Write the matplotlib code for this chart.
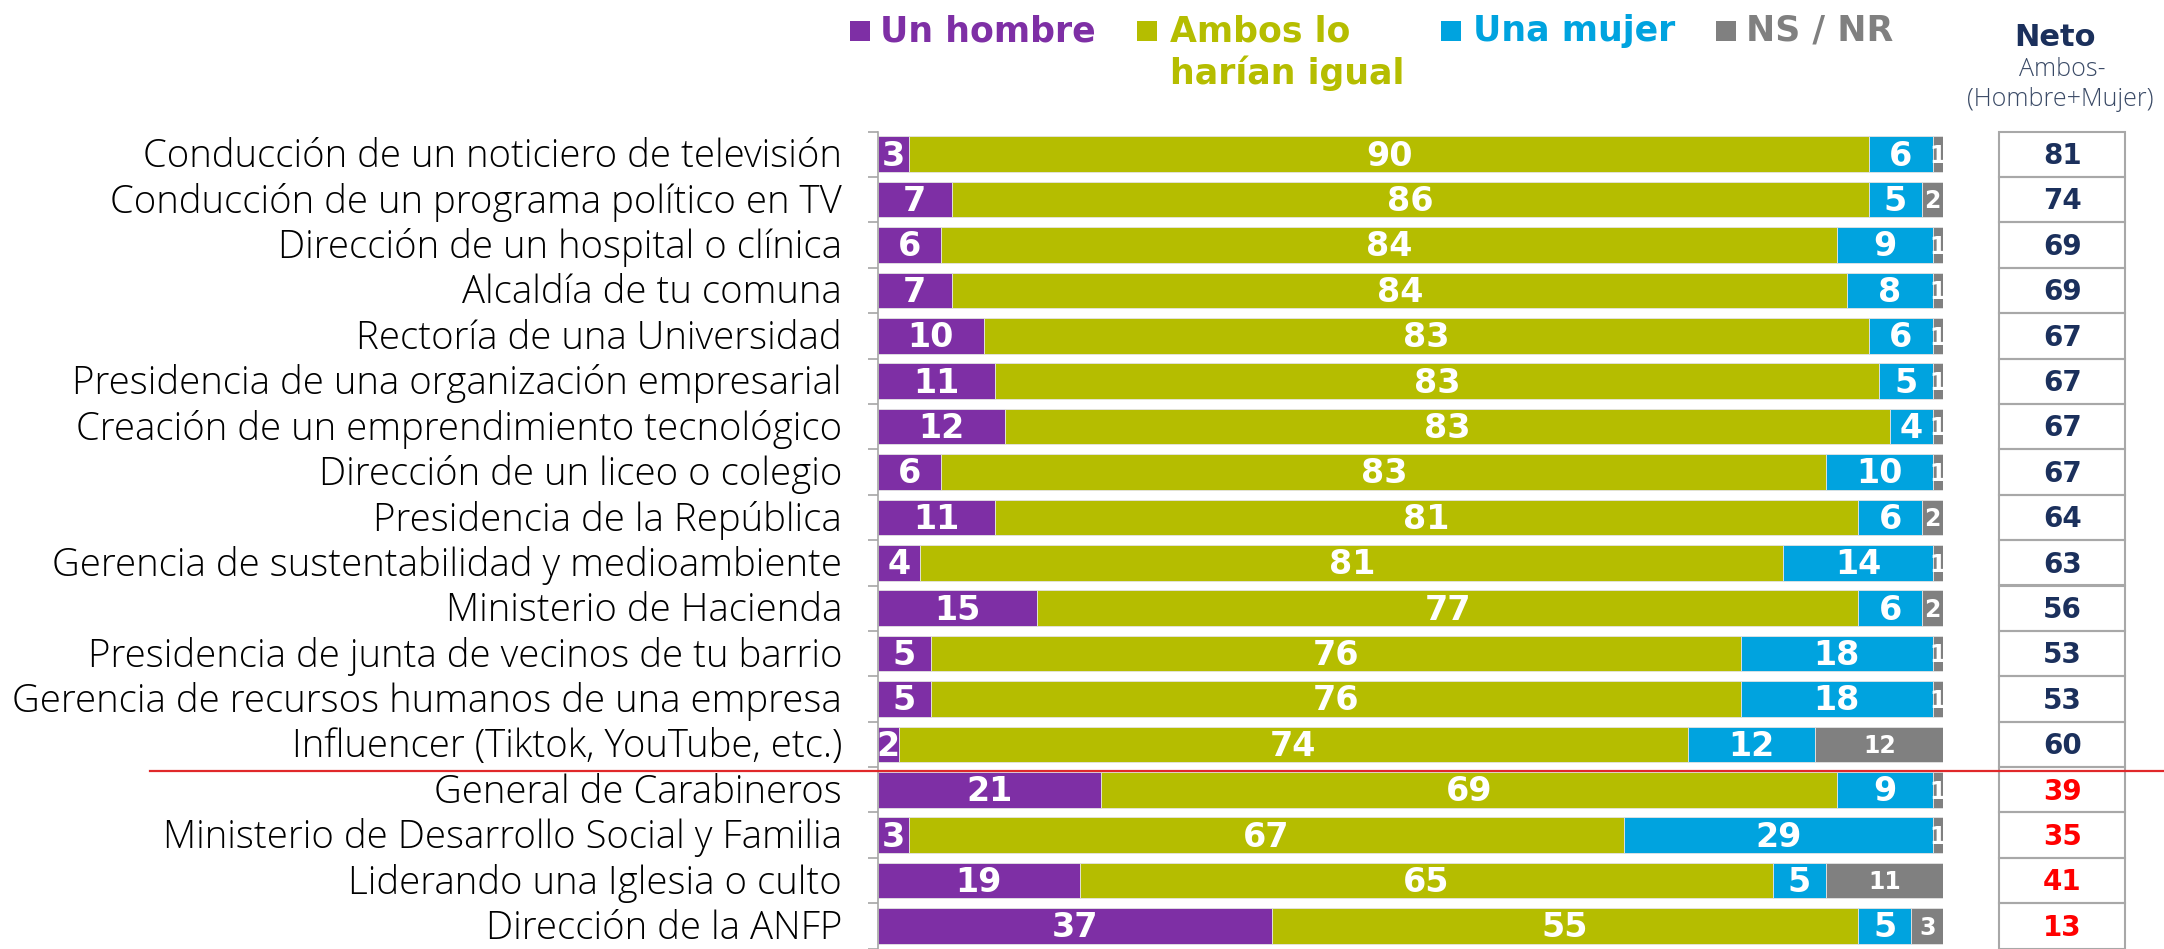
import matplotlib
matplotlib.use('Agg')
import matplotlib.pyplot as plt
from matplotlib.patches import Rectangle
from matplotlib.lines import Line2D
import matplotlib.transforms as mtransforms
import numpy as np

categories = [
    "Conducción de un noticiero de televisión",
    "Conducción de un programa político en TV",
    "Dirección de un hospital o clínica",
    "Alcaldía de tu comuna",
    "Rectoría de una Universidad",
    "Presidencia de una organización empresarial",
    "Creación de un emprendimiento tecnológico",
    "Dirección de un liceo o colegio",
    "Presidencia de la República",
    "Gerencia de sustentabilidad y medioambiente",
    "Ministerio de Hacienda",
    "Presidencia de junta de vecinos de tu barrio",
    "Gerencia de recursos humanos de una empresa",
    "Influencer (Tiktok, YouTube, etc.)",
    "General de Carabineros",
    "Ministerio de Desarrollo Social y Familia",
    "Liderando una Iglesia o culto",
    "Dirección de la ANFP",
]
hombre = [3, 7, 6, 7, 10, 11, 12, 6, 11, 4, 15, 5, 5, 2, 21, 3, 19, 37]
ambos = [90, 86, 84, 84, 83, 83, 83, 83, 81, 81, 77, 76, 76, 74, 69, 67, 65, 55]
mujer = [6, 5, 9, 8, 6, 5, 4, 10, 6, 14, 6, 18, 18, 12, 9, 29, 5, 5]
nsnr = [1, 2, 1, 1, 1, 1, 1, 1, 2, 1, 2, 1, 1, 12, 1, 1, 11, 3]
neto = [81, 74, 69, 69, 67, 67, 67, 67, 64, 63, 56, 53, 53, 60, 39, 35, 41, 13]
n_blue_neto = 14

series_names = ["Un hombre", "Ambos lo\nharían igual", "Una mujer", "NS / NR"]

PURPLE = '#7E2FA5'
OLIVE = '#B5BD00'
BLUE = '#00A3DF'
GRAY = '#808080'
NAVY = '#1B305C'
RED = '#FF0000'
colors = [PURPLE, OLIVE, BLUE, GRAY]

W, H = 2164, 949
fig = plt.figure(figsize=(W / 100, H / 100), dpi=100)


def fx(px):
    return px / W


def fy(py):
    return 1 - py / H


n = len(categories)
row_top = 131.5
row_h = 45.4
y_bot = row_top + n * row_h

ax = fig.add_axes([fx(877.5), fy(y_bot), fx(1943.3) - fx(877.5), (y_bot - row_top) / H])
ax.set_xlim(0, 100)
ax.set_ylim(n - 0.5, -0.5)
y = np.arange(n)

series = [hombre, ambos, mujer, nsnr]
left = np.zeros(n)
for k, vals in enumerate(series):
    vals = np.array(vals, dtype=float)
    ax.barh(y, vals, left=left, height=0.78, color=colors[k],
            edgecolor='#E4E4E4', linewidth=0.6, zorder=2)
    for i in range(n):
        cx = left[i] + vals[i] / 2
        size = 17 if k == 3 else 24
        ax.text(cx, i + 0.04, str(int(vals[i])), ha='center', va='center',
                color='white', fontsize=size, fontweight='bold',
                family='DejaVu Sans', zorder=3)
    left += vals

for s in ['top', 'right', 'bottom']:
    ax.spines[s].set_visible(False)
ax.spines['left'].set_color('#A6A6A6')
ax.spines['left'].set_linewidth(1.2)
ax.set_xticks([])
ax.set_yticks([])
ax.set_yticks(np.arange(-0.5, n, 1.0), minor=True)
ax.tick_params(axis='y', which='minor', length=7, width=1.2, color='#A6A6A6',
               labelleft=False)

# category labels
trans = mtransforms.blended_transform_factory(fig.transFigure, ax.transData)
labels = []
for i, c in enumerate(categories):
    t = ax.text(fx(842), i + 0.06, c, transform=trans, ha='right', va='center',
                fontsize=20, family='Open Sans', fontweight=300, color='#000000',
                clip_on=False)
    labels.append(t)

renderer = fig.canvas.get_renderer()
maxw = max(t.get_window_extent(renderer).width for t in labels)
scale = 831.0 / maxw
for t in labels:
    t.set_fontsize(20 * scale)

# neto table
ax2 = fig.add_axes([fx(1999.3), fy(y_bot), fx(2125) - fx(1999.3), (y_bot - row_top) / H])
ax2.set_xlim(0, 1)
ax2.set_ylim(n - 0.5, -0.5)
ax2.axis('off')
for i, v in enumerate(neto):
    ax2.add_patch(Rectangle((0, i - 0.5), 1, 1, fill=False, edgecolor='#A8A8A8',
                            linewidth=1.5, clip_on=False))
    ax2.text(0.5, i + 0.04, str(v), ha='center', va='center', fontsize=20,
             fontweight='bold', family='DejaVu Sans',
             color=NAVY if i < n_blue_neto else RED)

# red separator line
fig.add_artist(Line2D([fx(150), 1.0], [fy(770.5), fy(770.5)], color='#E0282A',
                      linewidth=1.6, transform=fig.transFigure))

# legend
leg_items = [
    (850, 880, 216, series_names[0], PURPLE),
    (1137, 1170, 181, series_names[1], OLIVE),
    (1441, 1473, 200, series_names[2], BLUE),
    (1716, 1746, 145, series_names[3], GRAY),
]
leg_texts = []
for sqx, tx, tw, name, col in leg_items:
    fig.add_artist(Rectangle((fx(sqx), fy(41)), 20 / W, 20 / H, transform=fig.transFigure,
                             facecolor=col, edgecolor='none'))
    lines = name.split('\n')
    t = fig.text(fx(tx), fy(31), lines[0], ha='left', va='center', color=col,
                 fontsize=22, fontweight='bold', family='DejaVu Sans')
    leg_texts.append((t, tw))
    if len(lines) > 1:
        fig.text(fx(tx), fy(73), lines[1], ha='left', va='center', color=col,
                 fontsize=22, fontweight='bold', family='DejaVu Sans')
ratios = [tw / t.get_window_extent(renderer).width for t, tw in leg_texts]
leg_size = 22 * float(np.median(ratios))
for t in fig.texts:
    t.set_fontsize(leg_size)

# neto header
fig.text(fx(2055), fy(37), 'Neto', ha='center', va='center', color=NAVY,
         fontsize=22, fontweight='bold', family='DejaVu Sans')
fig.text(fx(2062), fy(70), 'Ambos-', ha='center', va='center', color='#3A4A66',
         fontsize=18, family='Open Sans', fontweight=300)
fig.text(fx(2060), fy(100), '(Hombre+Mujer)', ha='center', va='center', color='#3A4A66',
         fontsize=18, family='Open Sans', fontweight=300)

fig.savefig('out.png', dpi=100)
